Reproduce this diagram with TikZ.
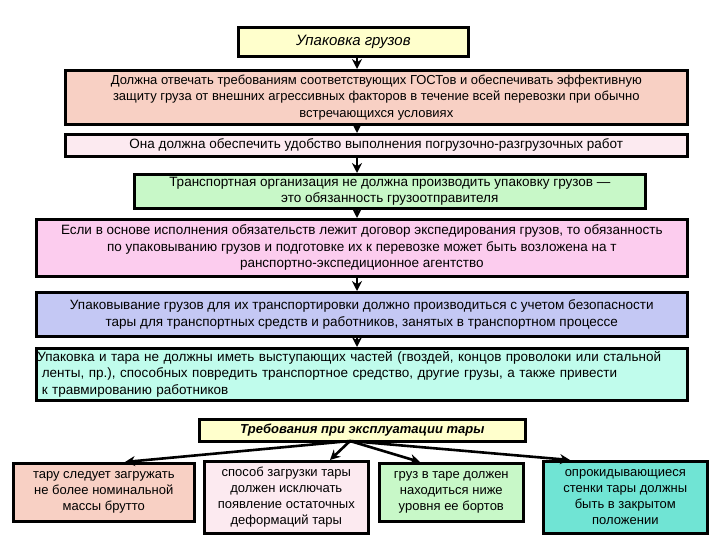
\documentclass[tikz,border=0pt]{standalone}
\usepackage{fontspec}
\setmainfont{Liberation Sans}
\usetikzlibrary{arrows.meta}
\definecolor{cyel}{HTML}{FFFFCC}
\definecolor{csal}{HTML}{F8D0C4}
\definecolor{cpk}{HTML}{FCEAF0}
\definecolor{cgr}{HTML}{C8F8C8}
\definecolor{cmag}{HTML}{FCCCEE}
\definecolor{clav}{HTML}{C4C8F4}
\definecolor{ccy}{HTML}{C0FCEC}
\definecolor{cteal}{HTML}{70E4D4}
\begin{document}
\begin{tikzpicture}[x=1pt,y=-1pt,
  box/.style={draw=black,line width=2.6pt,inner sep=1pt,font=\fontsize{13.5}{16.5}\selectfont,align=center,anchor=north west},
  bot/.style={box,font=\fontsize{13}{16}\selectfont,inner sep=3pt},
  arr/.style={line width=2.6pt,-{Stealth[length=10pt,width=10pt]}}]
\path[use as bounding box] (0,0) rectangle (720,540);
\coordinate (X) at (357,0);
\node[box,fill=cyel,minimum width=230pt,minimum height=29pt,font=\fontsize{15}{17}\selectfont\itshape] (a) at (237,26) {Упаковка грузов};
\node[box,fill=csal,minimum width=622pt,minimum height=54pt,font=\fontsize{13}{16.5}\selectfont] (b) at (64,69) {Должна отвечать требованиям соответствующих ГОСТов и обеспечивать эффективную\\защиту груза от внешних агрессивных факторов в течение всей перевозки при обычно\\встречающихся условиях};
\node[box,fill=cpk,minimum width=622pt,minimum height=22pt] (c) at (64,133) {Она должна обеспечить удобство выполнения погрузочно-разгрузочных работ};
\node[box,fill=cgr,minimum width=511pt,minimum height=34pt] (d) at (133,173) {Транспортная организация не должна производить упаковку грузов —\\это обязанность грузоотправителя};
\node[box,fill=cmag,minimum width=651pt,minimum height=57pt] (e) at (35,218) {Если в основе исполнения обязательств лежит договор экспедирования грузов, то обязанность\\по упаковыванию грузов и подготовке их к перевозке может быть возложена на т\\ранспортно-экспедиционное агентство};
\node[box,fill=clav,minimum width=651pt,minimum height=44pt] (f) at (35,291) {Упаковывание грузов для их транспортировки должно производиться с учетом безопасности\\тары для транспортных средств и работников, занятых в транспортном процессе};
\node[box,fill=ccy,minimum width=651pt,minimum height=52pt,align=left,text width=649pt] (g) at (35,347) {Упаковка и тара не должны иметь выступающих частей (гвоздей, концов проволоки или стальной\\\ ленты, пр.), способных повредить транспортное средство, другие грузы, а также привести\\\ к травмированию работников};
\node[box,fill=cyel,minimum width=326pt,minimum height=22pt,font=\fontsize{13}{15}\selectfont\bfseries\itshape] (h) at (198,418) {Требования при эксплуатации тары};
\node[bot,fill=csal,minimum width=181pt,minimum height=58pt] (p1) at (12,462) {тару следует загружать\\не более номинальной\\массы брутто};
\node[bot,fill=cpk,minimum width=164pt,minimum height=72pt] (p2) at (203,460) {способ загрузки тары\\должен исключать\\появление остаточных\\деформаций тары};
\node[bot,fill=cgr,minimum width=144pt,minimum height=58pt] (p3) at (378,462) {груз в таре должен\\находиться ниже\\уровня ее бортов};
\node[bot,fill=cteal,minimum width=164pt,minimum height=72pt] (p4) at (542,460) {опрокидывающиеся\\стенки тары должны\\быть в закрытом\\положении};
\foreach \u/\v in {a/b,b/c,c/d,d/e,e/f,f/g}
  \draw[arr] (\u.south -| X) -- (\v.north -| X);
\coordinate (h0) at (350,441);
\coordinate (t1) at (125,462);
\coordinate (t2) at (330,460);
\coordinate (t3) at (420,462);
\coordinate (t4) at (570,460);
\foreach \t in {t1,t2,t3,t4} \draw[arr] (h0) -- (\t);
\end{tikzpicture}
\end{document}
